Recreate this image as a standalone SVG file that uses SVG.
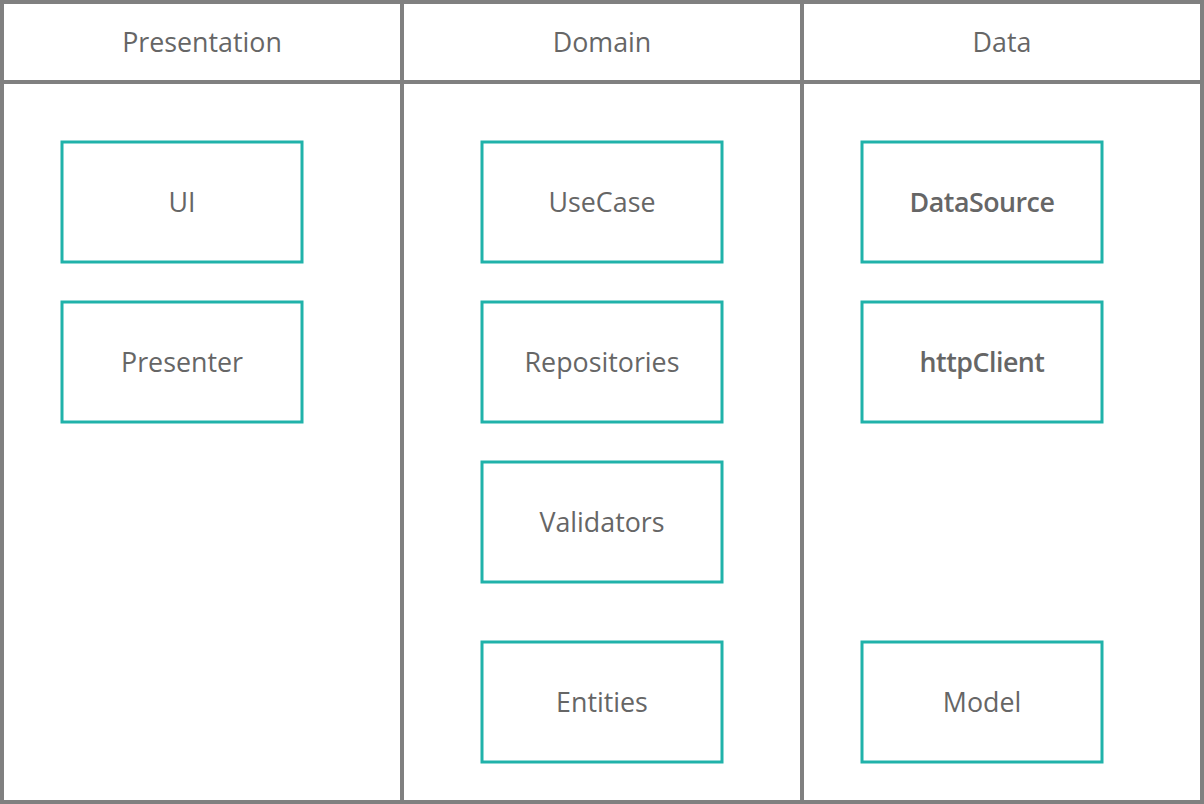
<svg xmlns="http://www.w3.org/2000/svg" width="1204" height="804" viewBox="0 0 1204 804">
<style>
.frame{fill:none;stroke:#808080;stroke-width:4}
.box{fill:#fff;stroke:#20B2AA;stroke-width:3}
.t{font-family:"Open Sans","Noto Sans",sans-serif;font-size:26.8px;fill:#666;text-anchor:middle;dominant-baseline:central}
.b{font-weight:600;letter-spacing:-0.5px}
</style>
<rect width="1204" height="804" fill="#fff"/>
<g id="lanes">
<rect class="frame" x="2" y="2" width="1200" height="800"/>
<line class="frame" x1="2" y1="82" x2="1202" y2="82"/>
<line class="frame" x1="402" y1="2" x2="402" y2="802"/>
<line class="frame" x1="802" y1="2" x2="802" y2="802"/>
<text class="t" x="202" y="41">Presentation</text>
<text class="t" x="602" y="41">Domain</text>
<text class="t" x="1002" y="41">Data</text>
</g>
<g id="connectors"></g>
<g id="ui"><rect class="box" x="62" y="142" width="240" height="120"/><text class="t" x="182" y="201">UI</text></g>
<g id="presenter"><rect class="box" x="62" y="302" width="240" height="120"/><text class="t" x="182" y="361">Presenter</text></g>
<g id="usecase"><rect class="box" x="482" y="142" width="240" height="120"/><text class="t" x="602" y="201">UseCase</text></g>
<g id="repositories"><rect class="box" x="482" y="302" width="240" height="120"/><text class="t" x="602" y="361">Repositories</text></g>
<g id="validators"><rect class="box" x="482" y="462" width="240" height="120"/><text class="t" x="602" y="521">Validators</text></g>
<g id="entities"><rect class="box" x="482" y="642" width="240" height="120"/><text class="t" x="602" y="701">Entities</text></g>
<g id="datasource"><rect class="box" x="862" y="142" width="240" height="120"/><text class="t b" x="982" y="201">DataSource</text></g>
<g id="httpclient"><rect class="box" x="862" y="302" width="240" height="120"/><text class="t b" x="982" y="361">httpClient</text></g>
<g id="model"><rect class="box" x="862" y="642" width="240" height="120"/><text class="t" x="982" y="701">Model</text></g>
</svg>
